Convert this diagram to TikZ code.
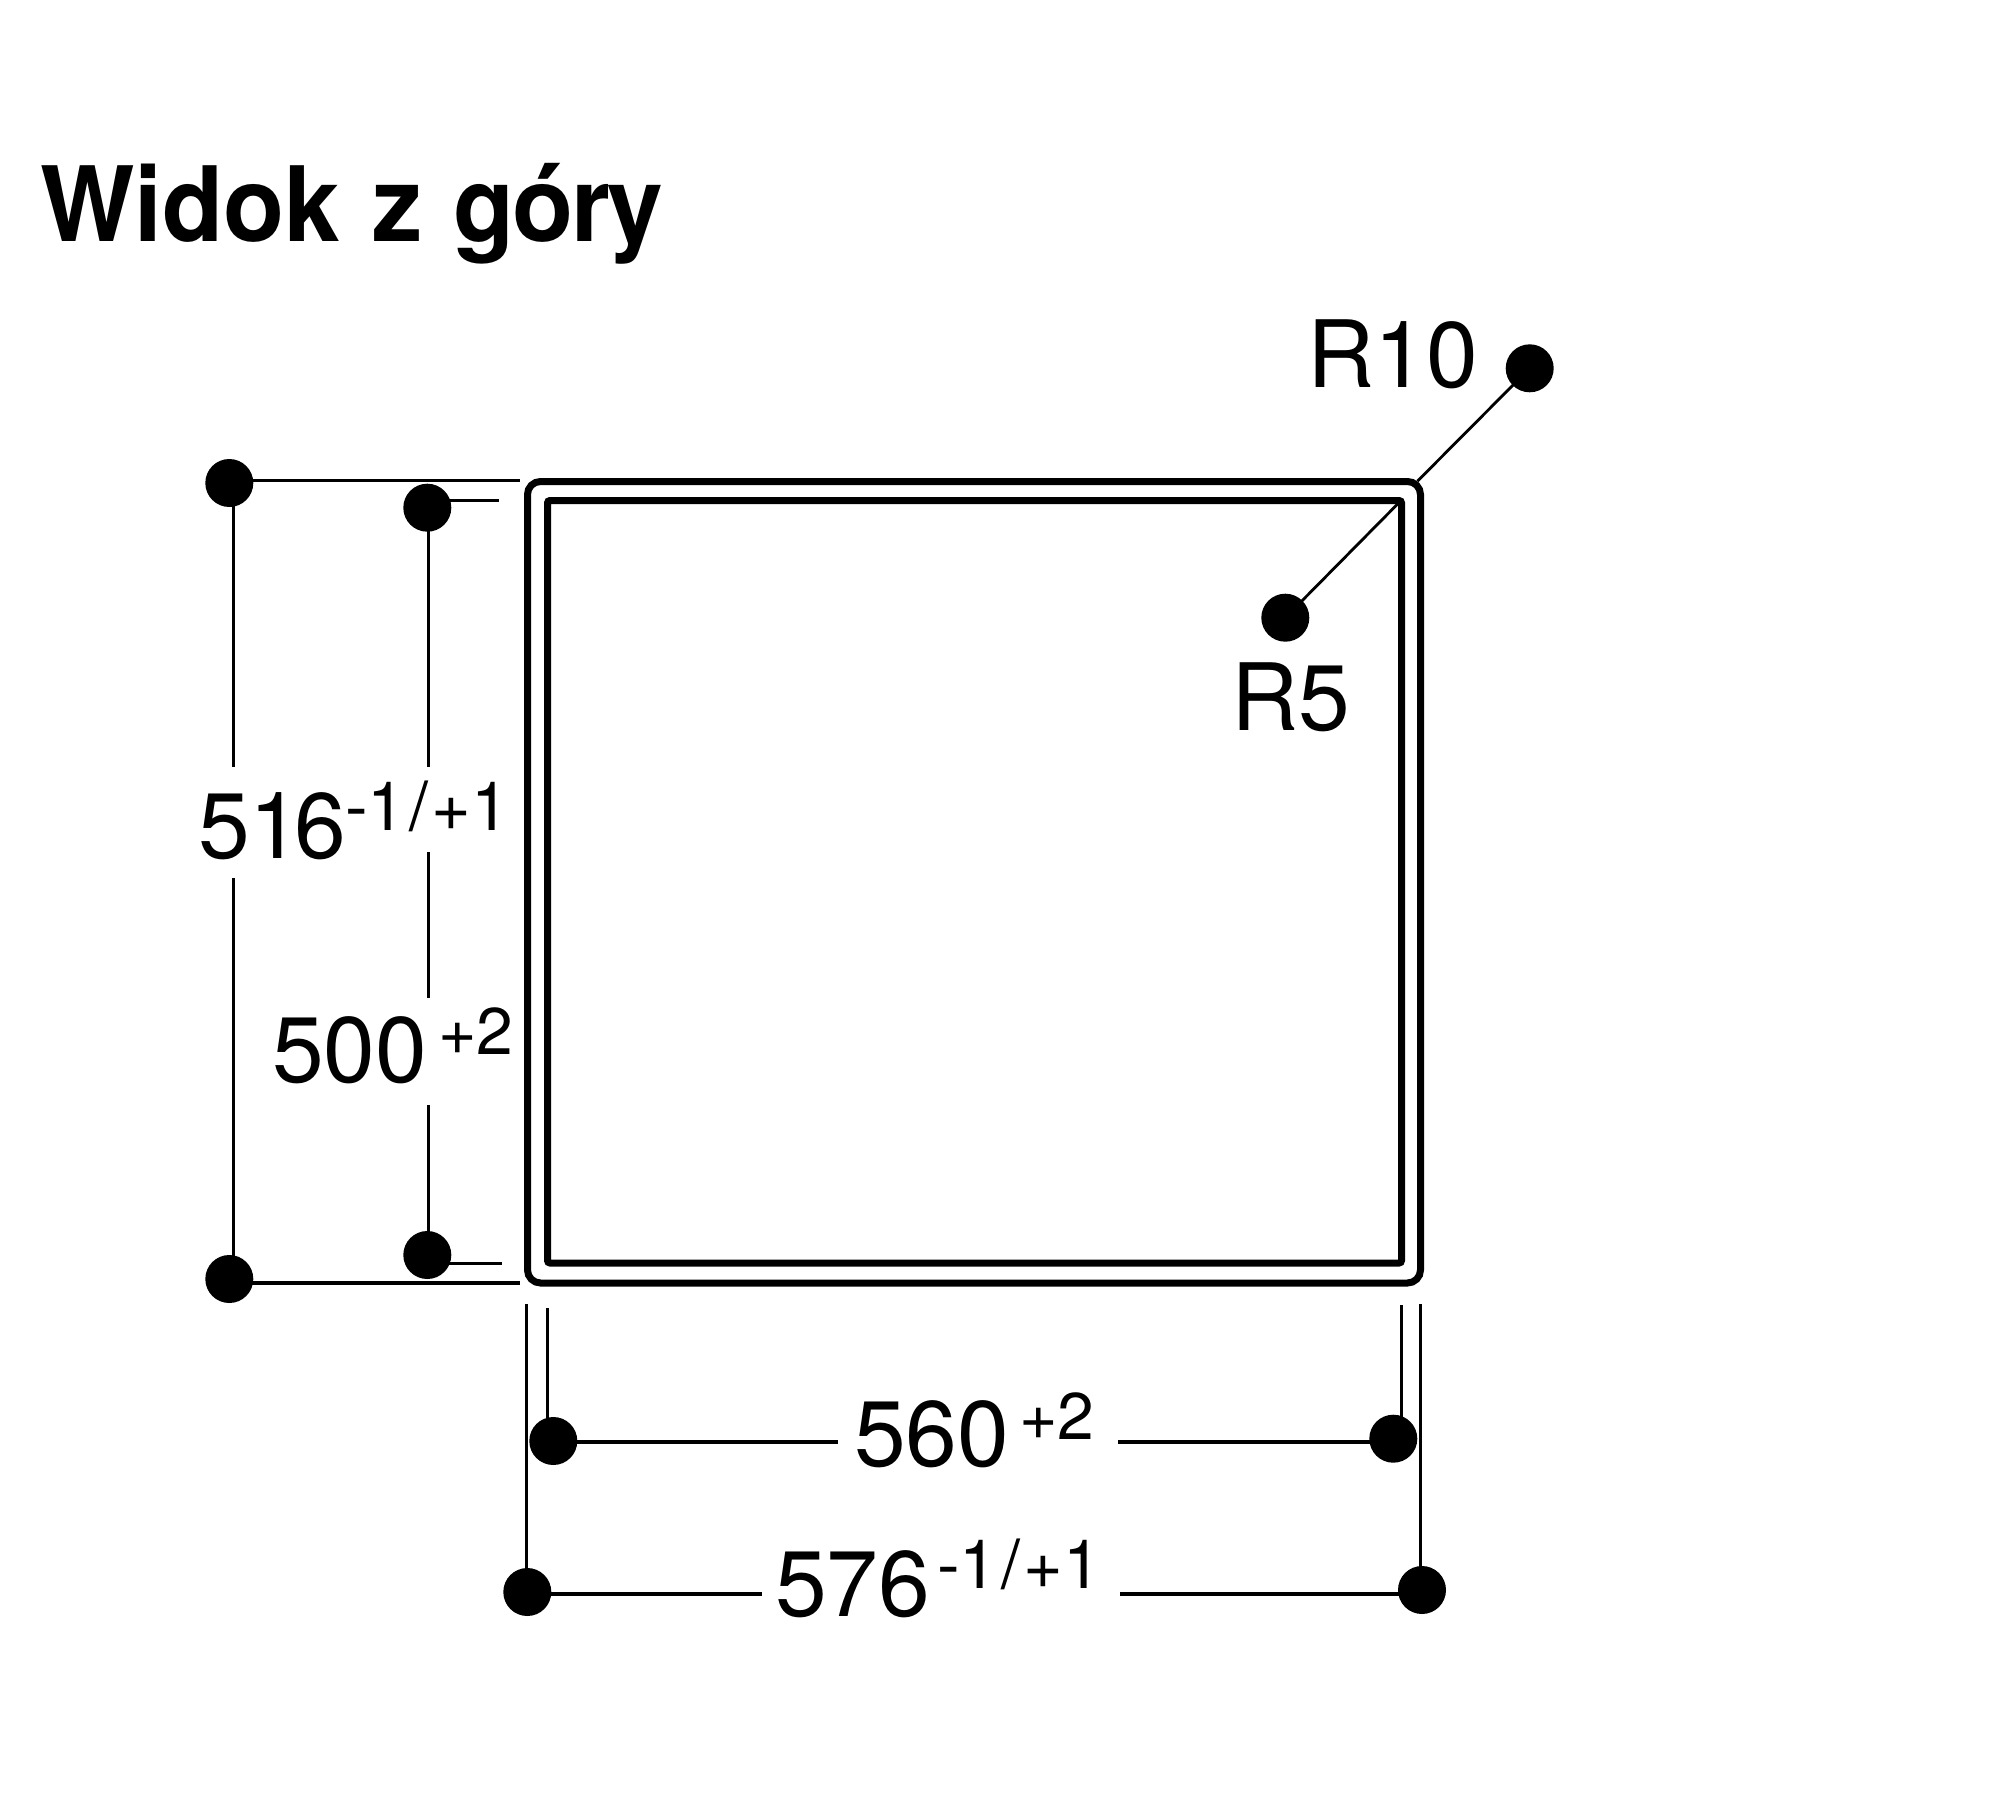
\documentclass[tikz,border=0pt]{standalone}
\usepackage{fontspec}
\setmainfont{TeX Gyre Heros}
\newcommand{\bigsz}{\fontsize{93}{93}\selectfont}
\newcommand{\supsz}{\fontsize{66}{66}\selectfont}
\newcommand{\tolsz}{\fontsize{68}{68}\selectfont}
\newcommand{\tolr}{-1\kern 3.5pt/\kern 3.5pt+1}
\tikzset{
  dot/.style={circle,fill=black,draw=none,inner sep=0pt,minimum size=48pt},
  dimline/.style={draw=black,line width=3.2pt},
  outerbox/.style={draw=black,line width=7pt,rounded corners=13pt,inner sep=0pt,minimum width=893pt,minimum height=801.5pt},
  innerbox/.style={draw=black,line width=7pt,rounded corners=2.5pt,inner sep=0pt,minimum width=854pt,minimum height=762.5pt},
  lab/.style={inner sep=0pt,anchor=base west,text=black},
  ttl/.style={inner sep=0pt,anchor=base west,text=black,font=\bfseries\fontsize{104}{104}\selectfont},
}
\begin{document}
\begin{tikzpicture}[x=1pt,y=-1pt]
\useasboundingbox (0,0) rectangle (2000,1817);
\fill[white] (0,0) rectangle (2000,1817);

\node[ttl] (title) at (40,241) {\scalebox{0.962}[1]{Widok\kern 5pt{} z\kern 3pt{} g\kern-2pt ó\kern-3pt r\kern-3pt y}};

\node[outerbox] (outer) at (974,882.25) {};
\node[innerbox] (inner) at (974.5,881.75) {};

% dots
\node[dot] (dA) at (229.3,483) {};
\node[dot] (dB) at (427.3,507.7) {};
\node[dot] (dC) at (229.3,1279) {};
\node[dot] (dD) at (427.3,1255) {};
\node[dot] (dE) at (553.3,1441) {};
\node[dot] (dF) at (1393.3,1438.7) {};
\node[dot] (dG) at (1422,1590) {};
\node[dot] (dH) at (527.3,1592) {};
\node[dot] (dR) at (1529.7,368.3) {};
\node[dot] (dS) at (1285.3,617.7) {};

% free ends
\coordinate (eAt) at (520.3,480.7);
\coordinate (eBt) at (499.3,500.3);
\coordinate (eAb) at (520.3,1283);
\coordinate (eBb) at (502.3,1263.3);
\coordinate (vA1) at (233.3,767);
\coordinate (vA2) at (233.3,878);
\coordinate (vB1) at (428.3,767);
\coordinate (vB2) at (428.3,852);
\coordinate (vB3) at (428.3,998);
\coordinate (vB4) at (428.3,1105);
\coordinate (tH) at (526.3,1304.3);
\coordinate (tE) at (547.3,1308.3);
\coordinate (tF) at (1401.3,1305.3);
\coordinate (tG) at (1420.3,1304.3);
\coordinate (hE) at (838,1442);
\coordinate (hF) at (1118,1442);
\coordinate (hH) at (762,1594);
\coordinate (hG) at (1120,1594);
\coordinate (cR) at (1417.3,481.3);
\coordinate (cS) at (1398.3,503.3);

% extension lines
\draw[dimline] (dA.center |- eAt) -- (eAt);
\draw[dimline] (dB.center |- eBt) -- (eBt);
\draw[dimline] (dC.center |- eAb) -- (eAb);
\draw[dimline] (dD.center |- eBb) -- (eBb);
% vertical dimensions
\draw[dimline] (vA1 |- dA.center) -- (vA1);
\draw[dimline] (vA2) -- (vA2 |- dC.center);
\draw[dimline] (vB1 |- dB.center) -- (vB1);
\draw[dimline] (vB2) -- (vB3);
\draw[dimline] (vB4) -- (vB4 |- dD.center);
% below the box
\draw[dimline] (tH) -- (tH |- dH.center);
\draw[dimline] (tE) -- (tE |- dE.center);
\draw[dimline] (tF) -- (tF |- dF.center);
\draw[dimline] (tG) -- (tG |- dG.center);
% horizontal dimensions
\draw[dimline] (dE.center |- hE) -- (hE);
\draw[dimline] (hF) -- (dF.center |- hF);
\draw[dimline] (dH.center |- hH) -- (hH);
\draw[dimline] (hG) -- (dG.center |- hG);
% radius leaders
\draw[draw=black,line width=2.8pt] (dR.center) -- (cR);
\draw[draw=black,line width=2.8pt] (dS.center) -- (cS);

% labels
\node[lab] (l516) at (198,858) {\bigsz 51\kern-7pt 6\kern -1pt\raisebox{27.5pt}{\tolsz \tolr}};
\node[lab] (l500) at (272,1082) {\bigsz 500\kern 11pt\raisebox{28pt}{\supsz +2}};
\node[lab] (l560) at (854,1466) {\bigsz 560\kern 10pt\raisebox{27pt}{\supsz +2}};
\node[lab] (l576) at (775,1616.5) {\bigsz 576\kern 7pt\raisebox{28pt}{\tolsz \tolr}};
\node[lab] (r10) at (1307,387) {\bigsz R10};
\node[lab] (r5) at (1231.5,730) {\bigsz R5};
\end{tikzpicture}
\end{document}
